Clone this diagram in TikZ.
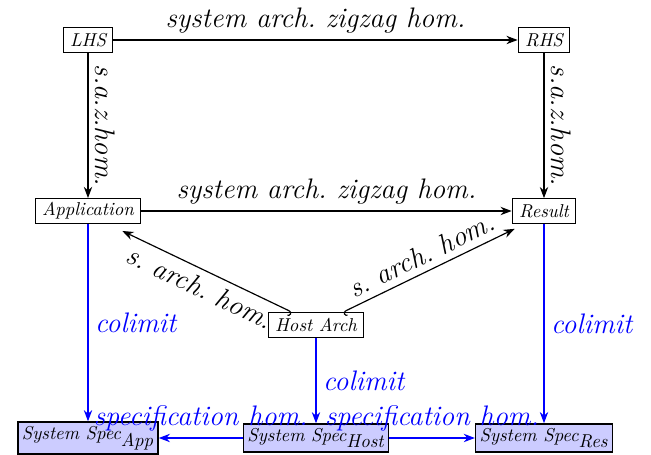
\documentclass[tikz,border=0pt]{standalone}
\usetikzlibrary{arrows.meta}
\begin{document}
\begin{tikzpicture}[x=0.51pt,y=-0.51pt,
 box/.style={draw, semithick, font=\fontsize{9.5}{11.5}\selectfont\itshape, inner xsep=3.5pt, inner ysep=2pt, minimum height=12.5pt},
 spec/.style={box, fill=blue!20, thick, inner xsep=2pt, minimum height=13.8pt},
 arr/.style={-Stealth, semithick},
 lharr/.style={{Hooks[right]}-Stealth, semithick},
 rharr/.style={{Hooks[left]}-Stealth, semithick},
 barr/.style={-Stealth, semithick, blue},
 lab/.style={font=\Large\itshape\frenchspacing},
 blab/.style={font=\Large\itshape\frenchspacing, text=blue}]
\useasboundingbox (0,0) rectangle (651,455);
\node[box] (lhs) at (88,40) {LHS};
\node[box] (rhs) at (544,40) {RHS};
\node[box] (app) at (88,211) {Application};
\node[box] (res) at (544,211) {Result};
\node[box] (host) at (316,325) {Host Arch};
\node[spec] (sapp) at (88,438) {System Spec$_{\textit{App}}$};
\node[spec] (shost) at (316,438) {System Spec$_{\textit{Host}}$};
\node[spec] (sres) at (544,438) {System Spec$_{\textit{Res}}$};
\draw[arr] (lhs) -- node[lab, above] {system arch. zigzag hom.} (rhs);
\draw[arr] (app) -- node[lab, above] {system arch. zigzag hom.} (res);
\draw[arr] (lhs) -- node[lab, rotate=-90, anchor=south] {s.a.z.hom.} (app);
\draw[arr] (rhs) -- node[lab, rotate=-90, anchor=south] {s.a.z.hom.} (res);
\draw[lharr] ([xshift=-24*0.51pt]host.north) -- node[lab, sloped, below] {s. arch. hom.} ([xshift=-19*0.51pt,yshift=-7*0.51pt]app.south east);
\draw[rharr] ([xshift=27*0.51pt]host.north) -- node[lab, sloped, above] {s. arch. hom.} ([xshift=3*0.51pt,yshift=-5*0.51pt]res.south west);
\draw[barr] (app) -- node[blab, right] {colimit} (sapp);
\draw[barr] (host) -- node[blab, right] {colimit} (shost);
\draw[barr] (res) -- node[blab, right] {colimit} (sres);
\draw[barr] (shost) -- node[blab, above] {specification hom.} (sapp);
\draw[barr] (shost) -- node[blab, above] {specification hom.} (sres);
\end{tikzpicture}
\end{document}
